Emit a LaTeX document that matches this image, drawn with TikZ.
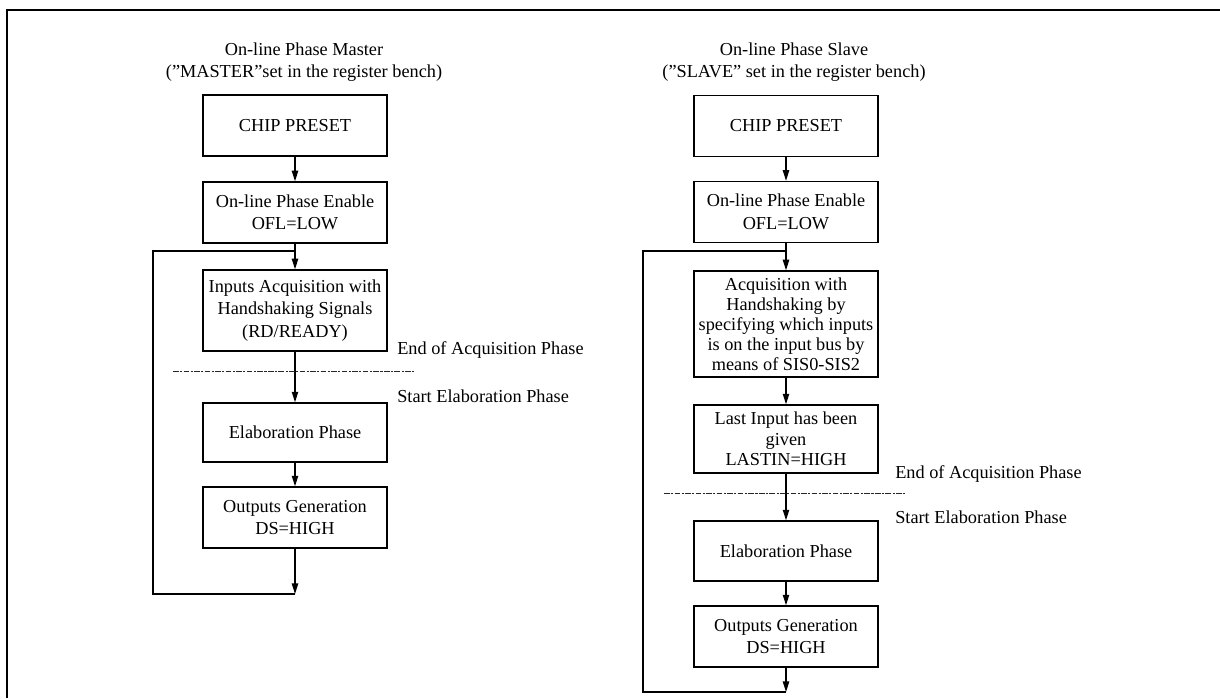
\documentclass[tikz,border=0pt]{standalone}
\usepackage{fontspec}
\setmainfont{Liberation Serif}
\usetikzlibrary{arrows.meta}

\tikzset{
  stepbox/.style={draw, line width=1pt, minimum width=4.6cm, minimum height=#1, align=center, inner sep=1pt},
  stepbox/.default=1.525cm,
  flowarrow/.style={line width=1pt, -{Triangle[width=4.5pt,length=7.5pt]}},
  loopline/.style={line width=1pt},
  phaseline/.style={line width=0.7pt, dash pattern=on 4pt off 1pt on 1.5pt off 1pt, black!85},
  phaselabel/.style={anchor=west, inner sep=0pt},
  frameline/.style={line width=2pt}
}

\begin{document}
\begin{tikzpicture}[x=0.025cm, y=-0.025cm, font=\fontsize{13}{16}\selectfont]
            \useasboundingbox (0,0) rectangle (1220,698);

            % Frame around the figure
            \draw[frameline] (7,698) -- (7,10) -- (1220,10);

            % Master column
            \node[align=center] (titleM) at (304,62) {On-line Phase Master\\(”MASTER”set in the register bench)};
            \node[stepbox] (preM) at (295,125.5) {CHIP PRESET}; % Chip preset
            \node[stepbox] (enM) at (295,212.5) {On-line Phase Enable\\OFL=LOW}; % Enable
            \node[stepbox=2.025cm] (acqM) at (295,310.5) {Inputs Acquisition with\\Handshaking Signals\\(RD/READY)}; % Acquisition
            \node[stepbox=1.475cm] (elaM) at (295,432.5) {Elaboration Phase}; % Elaboration
            \node[stepbox] (outM) at (295,517.5) {Outputs Generation\\DS=HIGH}; % Outputs
            \coordinate (joinM) at (295,251);
            \coordinate (endM) at (295,594);

            \draw[flowarrow] (preM) -- (enM);
            \draw[flowarrow] (enM) -- (acqM);
            \draw[flowarrow] (acqM) -- (elaM);
            \draw[flowarrow] (elaM) -- (outM);
            \draw[flowarrow] (outM) -- (endM);
            \draw[loopline] (endM) -- ++(-142,0) |- (joinM); % Back to acquisition

            % Phase boundary (master)
            \draw[phaseline] (173,371) -- (414,371);
            \node[phaselabel] (endAcqM) at (397,350) {End of Acquisition Phase};
            \node[phaselabel] (startElaM) at (397,396) {Start Elaboration Phase};

            % Slave column
            \node[align=center] (titleS) at (794,62) {On-line Phase Slave\\(”SLAVE” set in the register bench)};
            \node[stepbox] (preS) at (786,126) {CHIP PRESET}; % Chip preset
            \node[stepbox] (enS) at (786,212) {On-line Phase Enable\\OFL=LOW}; % Enable
            \node[stepbox=2.65cm, font=\fontsize{13}{14.2}\selectfont] (acqS) at (786,324) {Acquisition with\\Handshaking by\\specifying which inputs\\is on the input bus by\\means of SIS0-SIS2}; % Acquisition
            \node[stepbox=1.7cm, font=\fontsize{13}{14.6}\selectfont] (lastS) at (786,439) {Last Input has been\\given\\LASTIN=HIGH}; % Last input
            \node[stepbox=1.5cm] (elaS) at (786,551) {Elaboration Phase}; % Elaboration
            \node[stepbox] (outS) at (786,636.5) {Outputs Generation\\DS=HIGH}; % Outputs
            \coordinate (joinS) at (786,251);
            \coordinate (endS) at (786,692);

            \draw[flowarrow] (preS) -- (enS);
            \draw[flowarrow] (enS) -- (acqS);
            \draw[flowarrow] (acqS) -- (lastS);
            \draw[flowarrow] (lastS) -- (elaS);
            \draw[flowarrow] (elaS) -- (outS);
            \draw[flowarrow] (outS) -- (endS);
            \draw[loopline] (endS) -- ++(-143,0) |- (joinS); % Back to acquisition

            % Phase boundary (slave)
            \draw[phaseline] (664,493) -- (905,493);
            \node[phaselabel] (endAcqS) at (895,474) {End of Acquisition Phase};
            \node[phaselabel] (startElaS) at (895,517) {Start Elaboration Phase};
\end{tikzpicture}
\end{document}
